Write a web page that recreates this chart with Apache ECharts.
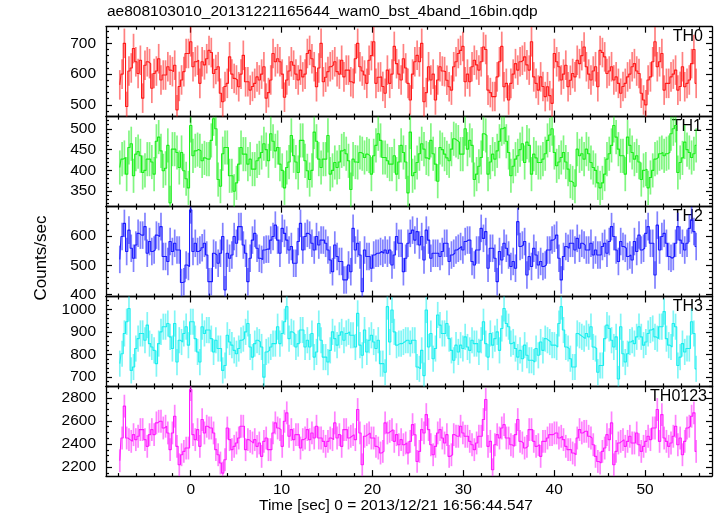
<!DOCTYPE html>
<html><head><meta charset="utf-8">
<script src="https://cdn.jsdelivr.net/npm/echarts@6/dist/echarts.min.js"></script>
<style>html,body{margin:0;padding:0;background:#fff}#c{width:717px;height:516px}</style>
</head><body><div id="c"></div>
<script>
// ---- data (counts/sec per 0.25 s bin) ----
const TIME_START = -7.8;     // centre of first bin [sec]
const BIN_WIDTH = 0.2517;    // bin width [sec]

const th0 = [
565,600,700,495,610,620,683,640,602,645,
522,629,640,634,554,602,610,650,581,597,
597,624,613,608,629,484,560,581,608,667,
667,705,624,640,645,570,640,630,650,677,
670,602,615,624,538,510,560,570,656,600,
586,581,559,600,661,575,575,548,560,570,
591,581,600,624,522,540,581,667,640,650,
640,600,525,581,610,640,629,600,581,613,
591,600,667,677,650,624,559,620,700,575,
590,608,624,630,640,608,600,645,591,613,
613,575,570,650,700,624,610,597,570,645,
660,705,570,590,591,560,538,613,570,600,
690,634,600,581,650,620,570,516,600,640,
661,640,700,510,540,624,581,600,516,581,
624,610,608,580,559,548,624,640,667,677,
690,575,600,575,624,645,630,613,640,688,
680,548,540,527,527,591,640,690,559,570,
516,570,600,634,613,640,645,656,630,613,
705,591,570,548,591,560,527,559,530,505,
667,640,624,581,600,629,559,580,602,591,
645,634,660,688,624,600,581,610,624,559,
677,670,656,602,610,624,581,591,570,538,
560,570,591,600,624,634,610,602,538,516,
500,581,591,640,705,624,640,667,548,570,
570,591,600,613,548,560,624,559,570,581,
634,680,570];

const th1 = [
407,427,431,391,455,464,387,439,445,435,
395,400,427,427,420,391,470,480,447,399,
405,460,322,451,451,443,407,443,399,380,
358,508,435,447,450,447,423,430,427,427,
472,524,500,378,362,440,455,455,387,387,
350,370,415,455,439,439,415,427,403,403,
423,430,443,464,450,423,488,470,447,455,
415,400,358,407,420,484,435,420,395,472,
472,423,399,378,400,492,470,427,407,427,
427,484,391,400,419,407,420,447,451,440,
423,354,427,420,419,443,440,431,439,435,
391,435,460,488,472,431,431,423,415,415,
435,391,420,460,443,420,346,492,387,395,
419,440,464,451,430,427,472,440,415,374,
455,450,439,430,423,451,476,472,468,439,
439,500,451,472,460,378,391,410,431,488,
484,391,420,439,427,447,470,500,504,470,
443,387,410,427,435,450,464,419,468,460,
391,439,430,419,419,427,440,472,485,500,
443,411,420,431,443,420,403,374,370,362,
451,435,440,427,451,440,419,407,400,370,
358,370,391,427,440,460,508,480,451,435,
435,391,480,460,443,427,435,420,378,400,
403,358,383,400,427,431,440,443,435,440,
443,488,500,508,395,419,430,468,450,443,
431,440,460];

const th2 = [
520,598,643,547,620,558,524,569,609,603,
603,632,541,581,547,552,603,598,632,530,
530,513,581,547,575,552,552,441,444,501,
496,689,547,575,547,552,560,575,535,444,
444,541,535,507,541,598,416,541,524,535,
598,575,632,632,569,541,444,524,586,609,
558,524,520,552,555,555,586,598,637,586,
541,626,609,586,552,564,507,507,581,643,
552,598,609,603,575,552,598,569,586,586,
575,552,518,478,569,530,513,513,450,450,
501,478,626,552,575,535,410,552,530,530,
490,535,541,541,547,541,552,541,552,501,
535,598,575,575,478,524,575,609,620,586,
615,569,598,518,620,586,524,541,541,541,
530,547,575,575,513,535,541,552,558,564,
552,581,586,586,513,501,552,552,626,592,
615,490,558,558,524,444,547,518,575,558,
535,496,513,490,649,564,569,581,467,530,
496,558,535,501,513,496,501,552,552,586,
592,603,524,450,530,564,558,575,575,552,
592,558,575,569,552,552,575,535,552,535,
535,564,575,541,581,632,598,552,513,581,
564,558,530,535,518,581,547,603,552,558,
609,632,575,575,467,637,552,598,609,575,
530,524,530,575,632,586,575,552,575,626,
655,615,564];

const th3 = [
759,803,893,945,1004,729,744,826,870,893,
893,863,930,848,833,818,759,848,900,923,
923,937,878,826,937,766,863,855,893,923,
841,945,945,870,811,766,923,893,908,908,
870,811,863,826,826,729,751,885,855,841,
818,803,826,863,870,900,937,833,788,848,
863,855,833,699,811,818,833,848,848,923,
848,893,945,1012,870,900,893,833,848,908,
908,833,863,833,893,788,811,937,863,788,
788,766,818,900,870,841,885,900,863,893,
900,885,885,833,982,841,796,908,811,863,
885,855,826,863,759,759,721,1012,855,997,
900,841,848,848,855,863,863,848,863,863,
744,736,818,706,997,833,893,781,826,975,
930,893,893,937,870,818,774,841,811,841,
826,878,833,818,863,848,848,811,863,945,
848,788,893,841,870,900,818,915,1004,937,
923,848,855,826,788,818,781,841,796,774,
774,766,826,796,855,818,870,863,855,841,
841,833,937,1012,908,833,826,781,744,744,
893,885,878,870,893,878,923,833,826,721,
751,751,870,930,915,863,833,878,691,923,
803,766,803,855,863,848,878,923,878,841,
855,893,908,915,878,870,923,923,990,870,
841,833,937,923,751,788,848,811,826,826,
945,893,736];

const th0123 = [
2255,2452,2728,2452,2438,2423,2481,2438,2467,2525,
2525,2438,2380,2481,2525,2481,2583,2597,2597,2539,
2554,2496,2351,2496,2641,2380,2220,2307,2336,2365,
2365,2872,2481,2438,2525,2380,2612,2496,2554,2539,
2539,2496,2351,2307,2235,2148,2264,2539,2438,2351,
2380,2409,2452,2554,2554,2351,2438,2423,2409,2438,
2380,2409,2293,2423,2452,2351,2351,2496,2583,2539,
2525,2380,2597,2670,2467,2525,2438,2481,2481,2365,
2438,2452,2525,2438,2496,2452,2554,2452,2452,2423,
2380,2423,2452,2438,2583,2452,2481,2380,2525,2525,
2452,2467,2481,2438,2699,2496,2220,2467,2481,2496,
2452,2452,2380,2365,2322,2336,2583,2496,2510,2525,
2423,2481,2394,2438,2394,2409,2322,2423,2568,2480,
2249,2336,2525,2496,2655,2525,2394,2307,2380,2496,
2525,2452,2409,2481,2293,2307,2481,2467,2467,2554,
2496,2467,2467,2423,2394,2351,2409,2467,2467,2612,
2786,2380,2423,2177,2394,2481,2452,2539,2568,2452,
2452,2394,2380,2481,2612,2423,2409,2365,2380,2525,
2525,2423,2380,2394,2293,2423,2423,2452,2481,2481,
2496,2496,2452,2467,2438,2380,2351,2351,2322,2307,
2452,2525,2496,2510,2510,2467,2452,2394,2293,2249,
2235,2336,2365,2481,2438,2583,2220,2336,2409,2423,
2438,2380,2423,2467,2409,2409,2496,2394,2336,2380,
2423,2467,2438,2539,2539,2699,2423,2655,2452,2423,
2380,2409,2467,2554,2394,2452,2307,2423,2539,2554,
2641,2670,2336];

const bandNames = ['TH0', 'TH1', 'TH2', 'TH3', 'TH0123'];
const bandErrors = [48, 41, 47, 58, 99];          // typical 1-sigma error per bin
const bandSeries = [th0, th1, th2, th3, th0123];
const yRanges = [[462, 754], [313, 529], [393, 700], [658, 1057], [2122, 2901]];
const yMajorTicks = [[500, 600, 700], [350, 400, 450, 500], [400, 500, 600],
                     [700, 800, 900, 1000], [2200, 2400, 2600, 2800]];
const yMinorSteps = [20, 10, 20, 20, 50];
const xRange = [-9.32, 57.37];
const xMajorTicks = [0, 10, 20, 30, 40, 50];
const xMinorStep = 2;
const titleText = 'ae808103010_20131221165644_wam0_bst_4band_16bin.qdp';
const xTitle = 'Time [sec] 0 = 2013/12/21 16:56:44.547';
const yTitle = 'Counts/sec';

// ---- layout / style ----
const colors = ['#ff1a1a', '#1aee1a', '#1a1aff', '#1aeeee', '#ff1aff'];
const gridTops = [26.7, 116.7, 206.7, 296.5, 386.2];
const gridH = 89.9;
const FONT = 'Liberation Sans, Arial, Helvetica, sans-serif';
const FS = 15.5;
const labelRight = [703, 702, 703, 703, 707];

function minorList(lo, hi, step, majors) {
  const out = [];
  const start = Math.ceil(lo / step) * step;
  for (let v = start; v <= hi + 1e-9; v += step) {
    if (!majors.some(m => Math.abs(m - v) < 1e-6)) out.push(+v.toFixed(6));
  }
  return out;
}

const grids = [], xAxes = [], yAxes = [], series = [], graphics = [];
const xMinor = minorList(xRange[0], xRange[1], xMinorStep, xMajorTicks);
const axisColor = '#000';
const plainNum = v => String(v);

for (let g = 0; g < 5; g++) {
  grids.push({left: 106, right: 5, top: gridTops[g], height: gridH, containLabel: false});
  const isLast = g === 4;
  const mkX = (pos, ticks, len, lineShow, labels) => ({
    type: 'value', gridIndex: g, position: pos, min: xRange[0], max: xRange[1],
    axisLine: {show: lineShow, onZero: false, lineStyle: {color: axisColor, width: 1.3}},
    axisTick: {show: true, inside: true, length: len, customValues: ticks, lineStyle: {color: axisColor, width: 1.2}},
    axisLabel: {show: labels, customValues: xMajorTicks, formatter: plainNum, margin: 6, color: '#000', fontSize: FS, fontFamily: FONT},
    splitLine: {show: false}
  });
  xAxes.push(mkX('bottom', xMajorTicks, 6, true, isLast));
  xAxes.push(mkX('bottom', xMinor, 3, false, false));
  xAxes.push(mkX('top', xMajorTicks, 6, true, false));
  xAxes.push(mkX('top', xMinor, 3, false, false));

  const [ylo, yhi] = yRanges[g];
  const yMinor = minorList(ylo, yhi, yMinorSteps[g], yMajorTicks[g]);
  const mkY = (pos, ticks, len, lineShow, labels) => ({
    type: 'value', gridIndex: g, position: pos, min: ylo, max: yhi,
    axisLine: {show: lineShow, onZero: false, lineStyle: {color: axisColor, width: 1.3}},
    axisTick: {show: true, inside: true, length: len, customValues: ticks, lineStyle: {color: axisColor, width: 1.2}},
    axisLabel: {show: labels, customValues: yMajorTicks[g], formatter: plainNum, margin: 10, color: '#000', fontSize: FS, fontFamily: FONT},
    splitLine: {show: false}
  });
  yAxes.push(mkY('left', yMajorTicks[g], 6, true, true));
  yAxes.push(mkY('left', yMinor, 3, false, false));
  yAxes.push(mkY('right', yMajorTicks[g], 6, true, false));
  yAxes.push(mkY('right', yMinor, 3, false, false));

  const vals = bandSeries[g];
  const err = bandErrors[g];
  const data = vals.map((v, i) => [TIME_START + i * BIN_WIDTH, v, err]);
  const col = colors[g];
  // error bars
  series.push({
    type: 'custom', xAxisIndex: g * 4, yAxisIndex: g * 4, data: data,
    renderItem: function (params, api) {
      const t = api.value(0), v = api.value(1), e = api.value(2);
      const top = Math.min(v + e, yhi), bot = Math.max(v - e, ylo);
      const pT = api.coord([t, top]);
      const pB = api.coord([t, bot]);
      return {type: 'line', shape: {x1: pT[0], y1: pT[1], x2: pB[0], y2: pB[1]},
              style: {stroke: col, lineWidth: 1.7, opacity: 0.55}};
    },
    animation: false, silent: true, z: 2
  });
  // histogram-style step line through the bin values
  series.push({
    type: 'line', step: 'middle', xAxisIndex: g * 4, yAxisIndex: g * 4,
    data: data.map(d => [d[0], d[1]]), showSymbol: false, symbol: 'none',
    lineStyle: {color: col, width: 1.1}, clip: true,
    animation: false, silent: true, z: 3
  });

  graphics.push({type: 'text', right: 717 - labelRight[g], top: gridTops[g] + 2,
    style: {text: bandNames[g], fontSize: 16, fontFamily: FONT, fill: '#000'}});
}

graphics.push({type: 'text', left: 107, top: 4,
  style: {text: titleText, fontSize: FS, fontFamily: FONT, fill: '#000'}});
graphics.push({type: 'text', left: 259, top: 498,
  style: {text: xTitle, fontSize: FS, fontFamily: FONT, fill: '#000'}});
graphics.push({type: 'text', x: 41, y: 258, rotation: Math.PI / 2,
  style: {text: yTitle, fontSize: 17, fontFamily: FONT, fill: '#000', align: 'center', verticalAlign: 'middle'}});

const chart = echarts.init(document.getElementById('c'), null, {renderer: 'canvas'});
chart.setOption({
  backgroundColor: '#fff', animation: false,
  grid: grids, xAxis: xAxes, yAxis: yAxes, series: series, graphic: graphics
});
</script>
</body></html>
